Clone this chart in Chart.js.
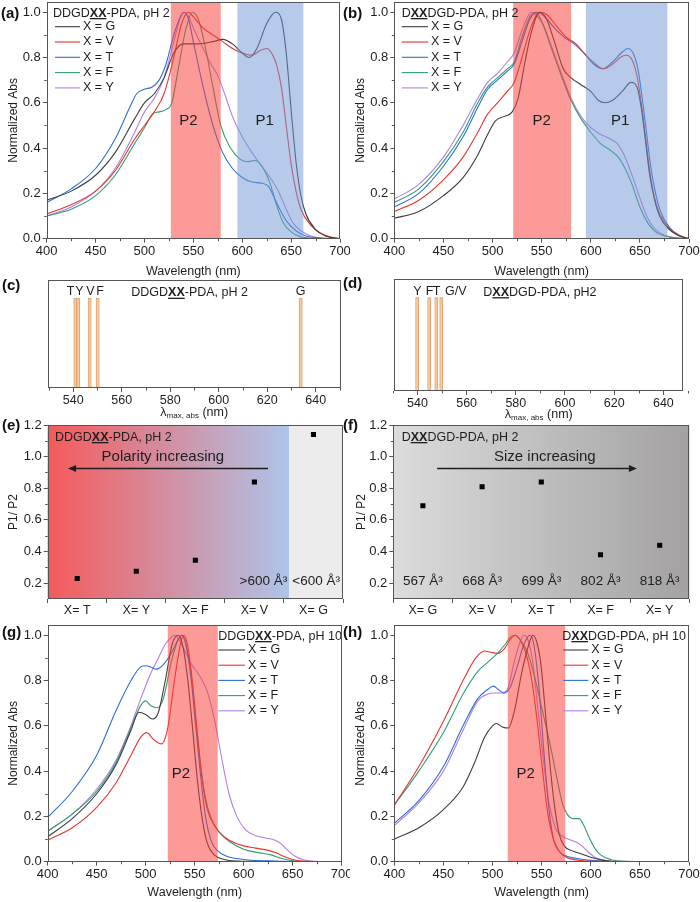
<!DOCTYPE html>
<html>
<head>
<meta charset="utf-8">
<script src="https://cdn.jsdelivr.net/npm/chart.js@4.4.1/dist/chart.umd.min.js"></script>
<style>
body { margin: 0; background: #fff; }
#fig { position: relative; width: 700px; height: 902px; overflow: hidden; }
#fig canvas { position: absolute; }
.tag { position: absolute; font: bold 15px "Liberation Sans", Arial, sans-serif; color: #111; }
</style>
</head>
<body>
<div id="fig">
  <canvas id="ca" width="350" height="282" style="left:0;top:0"></canvas>
  <canvas id="cb" width="350" height="282" style="left:350px;top:0"></canvas>
  <canvas id="cc" width="350" height="145" style="left:0;top:276px"></canvas>
  <canvas id="cd" width="350" height="145" style="left:350px;top:276px"></canvas>
  <canvas id="ce" width="350" height="205" style="left:0;top:418px"></canvas>
  <canvas id="cf" width="350" height="205" style="left:350px;top:418px"></canvas>
  <canvas id="cg" width="350" height="282" style="left:0;top:620px"></canvas>
  <canvas id="ch" width="350" height="282" style="left:350px;top:620px"></canvas>
  <div class="tag" style="left:1px;top:4px">(a)</div>
  <div class="tag" style="left:343px;top:4px">(b)</div>
  <div class="tag" style="left:2px;top:276px">(c)</div>
  <div class="tag" style="left:343px;top:274px">(d)</div>
  <div class="tag" style="left:2px;top:416px">(e)</div>
  <div class="tag" style="left:343px;top:416px">(f)</div>
  <div class="tag" style="left:2px;top:623px">(g)</div>
  <div class="tag" style="left:343px;top:623px">(h)</div>
</div>
<script>
// ---- data ----
const seriesNames = ['X = G', 'X = V', 'X = T', 'X = F', 'X = Y'];
const seriesColors = ['#3d3d3d', '#e8342f', '#2b6fdc', '#2f9f6c', '#b27fe6'];

const waveTicks = [400, 450, 500, 550, 600, 650, 700];
const waveMinor = [425, 475, 525, 575, 625, 675];
const absTicks = [0, 0.2, 0.4, 0.6, 0.8, 1.0];
const absMinor = [0.1, 0.3, 0.5, 0.7, 0.9];
const lambdaTicks = [540, 560, 580, 600, 620, 640];
const lambdaMinor = [530, 550, 570, 590, 610, 630, 650];
const ratioTicks = [0.2, 0.4, 0.6, 0.8, 1.0, 1.2];
const ratioMinor = [0.3, 0.5, 0.7, 0.9, 1.1];

// (a) DDGDXX-PDA, pH 2
const aG = [[400,0.17],[425,0.21],[450,0.28],[470,0.38],[490,0.53],[500,0.6],[510,0.64],[520,0.71],[530,0.82],[540,0.86],[555,0.86],[570,0.87],[580,0.88],[590,0.86],[600,0.82],[607,0.8],[615,0.84],[625,0.95],[634,1.0],[640,0.97],[645,0.82],[650,0.57],[655,0.34],[660,0.19],[665,0.11],[675,0.04],[685,0.012],[700,0]];
const aV = [[400,0.11],[425,0.15],[450,0.21],[470,0.3],[490,0.44],[500,0.5],[510,0.56],[520,0.64],[530,0.8],[538,0.95],[545,1.0],[550,0.98],[560,0.93],[570,0.9],[580,0.87],[590,0.84],[600,0.82],[610,0.81],[618,0.83],[625,0.84],[630,0.82],[635,0.77],[640,0.67],[645,0.5],[650,0.33],[655,0.21],[660,0.13],[670,0.06],[680,0.025],[690,0.008],[700,0]];
const aT = [[400,0.16],[425,0.22],[450,0.31],[470,0.44],[485,0.58],[492,0.64],[500,0.66],[508,0.67],[515,0.7],[522,0.77],[530,0.9],[538,0.99],[541,1.0],[545,0.97],[550,0.87],[560,0.67],[570,0.5],[580,0.38],[590,0.31],[600,0.27],[610,0.25],[620,0.245],[627,0.23],[635,0.16],[645,0.08],[655,0.035],[665,0.012],[680,0.003],[700,0]];
const aF = [[400,0.1],[425,0.13],[450,0.19],[470,0.28],[490,0.42],[500,0.49],[508,0.55],[515,0.56],[522,0.57],[528,0.6],[535,0.76],[542,0.92],[549,1.0],[555,0.97],[562,0.85],[570,0.67],[578,0.5],[588,0.4],[598,0.35],[605,0.34],[613,0.345],[620,0.32],[628,0.25],[635,0.15],[642,0.07],[650,0.03],[660,0.008],[680,0],[700,0]];
const aY = [[400,0.1],[425,0.14],[450,0.21],[470,0.31],[490,0.47],[500,0.56],[510,0.62],[520,0.71],[530,0.87],[537,0.98],[540,1.0],[545,0.98],[552,0.91],[560,0.84],[568,0.77],[575,0.72],[582,0.64],[590,0.54],[600,0.45],[610,0.38],[620,0.32],[630,0.26],[637,0.21],[645,0.13],[652,0.07],[660,0.035],[670,0.012],[685,0.002],[700,0]];

// (b) DXXDGD-PDA, pH 2
const bG = [[400,0.09],[425,0.12],[450,0.19],[470,0.27],[485,0.37],[495,0.46],[503,0.52],[512,0.54],[520,0.56],[526,0.62],[533,0.78],[540,0.92],[548,1.0],[555,0.97],[563,0.87],[572,0.75],[580,0.71],[590,0.68],[600,0.65],[608,0.61],[614,0.6],[622,0.61],[632,0.65],[641,0.69],[647,0.67],[652,0.56],[656,0.42],[660,0.28],[665,0.17],[670,0.1],[680,0.04],[690,0.012],[700,0]];
const bV = [[400,0.12],[425,0.17],[450,0.26],[470,0.36],[485,0.47],[495,0.55],[505,0.6],[515,0.65],[522,0.69],[530,0.8],[538,0.92],[545,0.99],[549,1.0],[555,0.99],[565,0.94],[575,0.89],[585,0.86],[595,0.81],[605,0.77],[613,0.75],[622,0.77],[630,0.8],[636,0.81],[642,0.79],[647,0.72],[652,0.58],[656,0.44],[660,0.3],[665,0.18],[670,0.11],[680,0.045],[690,0.015],[700,0]];
const bT = [[400,0.14],[425,0.2],[450,0.32],[470,0.45],[485,0.58],[495,0.66],[505,0.7],[515,0.74],[522,0.77],[530,0.87],[538,0.97],[546,1.0],[553,0.98],[563,0.93],[573,0.89],[583,0.86],[593,0.82],[603,0.77],[612,0.75],[622,0.78],[631,0.82],[638,0.84],[643,0.82],[648,0.75],[653,0.6],[657,0.46],[661,0.32],[666,0.2],[671,0.12],[680,0.05],[690,0.015],[700,0]];
const bF = [[400,0.16],[425,0.22],[450,0.34],[470,0.47],[485,0.6],[495,0.67],[505,0.71],[515,0.75],[522,0.78],[530,0.89],[538,0.98],[544,1.0],[550,0.96],[560,0.84],[570,0.72],[580,0.61],[590,0.53],[600,0.47],[610,0.42],[620,0.39],[628,0.36],[635,0.31],[642,0.24],[650,0.14],[658,0.07],[666,0.03],[675,0.012],[690,0.002],[700,0]];
const bY = [[400,0.175],[425,0.24],[450,0.36],[470,0.5],[485,0.62],[495,0.69],[505,0.73],[515,0.78],[522,0.82],[530,0.92],[537,0.99],[540,1.0],[546,0.98],[552,0.94],[560,0.85],[570,0.73],[580,0.62],[590,0.54],[600,0.49],[610,0.46],[620,0.44],[627,0.42],[634,0.37],[642,0.28],[650,0.18],[658,0.09],[666,0.04],[675,0.015],[690,0.003],[700,0]];

// (g) DDGDXX-PDA, pH 10
const gG = [[400,0.11],[425,0.19],[450,0.3],[470,0.43],[485,0.58],[493,0.66],[500,0.65],[507,0.63],[513,0.66],[520,0.8],[527,0.96],[533,1.0],[538,0.95],[543,0.8],[548,0.58],[553,0.35],[558,0.18],[563,0.08],[570,0.03],[580,0.01],[600,0.002],[700,0]];
const gV = [[400,0.095],[425,0.15],[450,0.24],[470,0.35],[485,0.47],[495,0.55],[501,0.57],[508,0.54],[516,0.52],[522,0.58],[530,0.82],[536,0.97],[539,1.0],[543,0.95],[548,0.78],[553,0.55],[558,0.35],[563,0.23],[570,0.16],[580,0.11],[590,0.085],[600,0.07],[612,0.06],[625,0.05],[633,0.04],[640,0.025],[648,0.012],[660,0.003],[700,0]];
const gT = [[400,0.195],[425,0.31],[450,0.47],[470,0.67],[485,0.8],[495,0.86],[500,0.865],[505,0.86],[511,0.85],[518,0.87],[526,0.92],[533,0.98],[537,1.0],[541,0.96],[546,0.82],[551,0.6],[556,0.38],[561,0.2],[567,0.09],[573,0.05],[582,0.025],[600,0.01],[630,0.003],[700,0]];
const gF = [[400,0.135],[425,0.21],[450,0.31],[470,0.44],[485,0.59],[495,0.69],[500,0.71],[505,0.69],[512,0.68],[518,0.72],[526,0.88],[533,0.98],[537,1.0],[541,0.96],[546,0.84],[551,0.64],[556,0.43],[561,0.28],[567,0.19],[575,0.13],[585,0.09],[600,0.055],[615,0.04],[628,0.03],[638,0.015],[648,0.005],[660,0],[700,0]];
const gY = [[400,0.135],[425,0.21],[450,0.32],[470,0.45],[485,0.6],[495,0.72],[505,0.83],[513,0.9],[520,0.96],[526,0.99],[529,1.0],[534,0.98],[540,0.93],[547,0.87],[555,0.82],[563,0.75],[570,0.63],[577,0.47],[585,0.3],[593,0.2],[602,0.14],[612,0.115],[622,0.105],[632,0.095],[638,0.08],[645,0.05],[652,0.025],[660,0.01],[672,0.002],[700,0]];

// (h) DXXDGD-PDA, pH 10
const hG = [[400,0.1],[425,0.15],[450,0.23],[470,0.33],[482,0.44],[492,0.55],[500,0.6],[504,0.61],[510,0.595],[516,0.59],[522,0.66],[530,0.84],[537,0.96],[541,1.0],[545,0.97],[549,0.88],[553,0.7],[558,0.45],[563,0.25],[568,0.12],[573,0.07],[580,0.05],[590,0.035],[600,0.02],[612,0.007],[625,0],[700,0]];
const hV = [[400,0.25],[425,0.42],[450,0.62],[470,0.8],[483,0.9],[492,0.93],[498,0.925],[505,0.92],[512,0.94],[518,0.98],[523,1.0],[528,0.98],[534,0.92],[540,0.8],[546,0.6],[551,0.4],[556,0.22],[562,0.1],[568,0.045],[575,0.02],[585,0.008],[600,0.002],[700,0]];
const hT = [[400,0.17],[425,0.27],[450,0.42],[470,0.6],[485,0.72],[495,0.76],[501,0.775],[506,0.76],[512,0.745],[518,0.77],[525,0.86],[532,0.96],[538,1.0],[542,0.96],[547,0.78],[552,0.5],[557,0.25],[562,0.1],[568,0.045],[575,0.025],[585,0.015],[600,0.006],[615,0.002],[700,0]];
const hF = [[400,0.25],[425,0.4],[450,0.57],[470,0.74],[485,0.84],[495,0.88],[505,0.92],[513,0.96],[518,0.99],[523,1.0],[528,0.98],[535,0.93],[542,0.83],[550,0.68],[558,0.53],[565,0.38],[571,0.26],[576,0.21],[582,0.19],[588,0.19],[593,0.16],[598,0.11],[604,0.06],[610,0.03],[620,0.01],[635,0.002],[700,0]];
const hY = [[400,0.16],[425,0.26],[450,0.4],[470,0.58],[485,0.71],[495,0.74],[503,0.745],[510,0.745],[516,0.77],[522,0.88],[528,0.97],[532,1.0],[536,0.98],[541,0.88],[546,0.68],[552,0.44],[558,0.25],[565,0.14],[572,0.11],[580,0.095],[586,0.085],[591,0.07],[597,0.045],[604,0.02],[612,0.008],[625,0],[700,0]];

// shaded P2 / P1 regions (nm)
const aBands = [[527, 578], [595, 662.5]];
const bBands = [[521, 580], [595, 678]];
const gBands = [[522.5, 573.5]];
const hBands = [[515.5, 574]];

// (c), (d) lambda max bars
const cLetters = ['T', 'Y', 'V', 'F', 'G'];
const cPeaks = [540.9, 542.1, 546.8, 550.1, 633.8];
const cLabelAt = [538.9, 542.6, 547.1, 551.1, 633.8];
const dLetters = ['Y', 'F', 'T', 'G/V'];
const dPeaks = [539.9, 544.8, 547.7, 549.7];
const dLabelAt = [540.0, 544.9, 547.8, 555.6];

// (e), (f) P1/P2 ratios
const eCats = ['X= T', 'X= Y', 'X= F', 'X= V', 'X= G'];
const eRatio = [0.23, 0.275, 0.345, 0.84, 1.14];
const fCats = ['X= G', 'X= V', 'X= T', 'X= F', 'X= Y'];
const fRatio = [0.69, 0.81, 0.84, 0.38, 0.44];
const fVolumes = ['567 Å³', '668 Å³', '699 Å³', '802 Å³', '818 Å³'];

// ---- drawing helpers ----
const FONT = '"Liberation Sans", Arial, sans-serif';
const INK = '#1e1e1e';
Chart.defaults.font.family = FONT;
Chart.defaults.color = INK;

const titleA = [['DDGD', 0], ['XX', 1], ['-PDA, pH 2', 0]];
const titleB = [['D', 0], ['XX', 1], ['DGD-PDA, pH 2', 0]];
const titleD = [['D', 0], ['XX', 1], ['DGD-PDA, pH2', 0]];
const titleG = [['DDGD', 0], ['XX', 1], ['-PDA, pH 10', 0]];
const titleH = [['D', 0], ['XX', 1], ['DGD-PDA, pH 10', 0]];

// text with a bold, underlined middle part; y is the baseline
function richText(ctx, parts, x, y, size, align) {
  ctx.textBaseline = 'alphabetic';
  ctx.textAlign = 'left';
  let w = 0;
  parts.forEach(p => { ctx.font = (p[1] ? 'bold ' : '') + size + 'px ' + FONT; w += ctx.measureText(p[0]).width; });
  let cx = align === 'center' ? x - w / 2 : x;
  ctx.fillStyle = INK;
  parts.forEach(p => {
    ctx.font = (p[1] ? 'bold ' : '') + size + 'px ' + FONT;
    ctx.fillText(p[0], cx, y);
    const pw = ctx.measureText(p[0]).width;
    if (p[1]) ctx.fillRect(cx, y + 1.5, pw, 1.3);
    cx += pw;
  });
}

function arrow(ctx, x1, x2, y) {
  const dir = x2 > x1 ? 1 : -1;
  ctx.strokeStyle = INK; ctx.fillStyle = INK; ctx.lineWidth = 1.3;
  ctx.beginPath(); ctx.moveTo(x1, y); ctx.lineTo(x2 - dir * 6, y); ctx.stroke();
  ctx.beginPath(); ctx.moveTo(x2, y); ctx.lineTo(x2 - dir * 8, y - 3.5); ctx.lineTo(x2 - dir * 8, y + 3.5); ctx.closePath(); ctx.fill();
}

const frame = {
  id: 'frame',
  afterDraw(c, args, o) {
    const a = c.chartArea, ctx = c.ctx;
    ctx.save();
    ctx.strokeStyle = '#555'; ctx.lineWidth = 1;
    ctx.strokeRect(Math.round(a.left) + 0.5, Math.round(a.top) + 0.5, Math.round(a.right - a.left) - 1, Math.round(a.bottom - a.top) - 1);
    ctx.beginPath();
    (o.xMinor || []).forEach(v => { const p = Math.round(c.scales.x.getPixelForValue(v)) + 0.5; ctx.moveTo(p, a.bottom); ctx.lineTo(p, a.bottom + 2.5); });
    (o.yMinor || []).forEach(v => { const p = Math.round(c.scales.y.getPixelForValue(v)) + 0.5; ctx.moveTo(a.left, p); ctx.lineTo(a.left - 2.5, p); });
    ctx.stroke();
    ctx.restore();
  }
};

function fixedScales(plot, h) {
  return {
    x: s => { s.height = h - plot[3]; s.paddingLeft = 0; s.paddingRight = 0; },
    y: s => { s.width = plot[0]; s.paddingTop = 0; s.paddingBottom = 0; }
  };
}

const spec = {
  id: 'spec',
  afterDatasetsDraw(c, args, o) {
    const {ctx, chartArea: a, scales: {x}} = c;
    ctx.save();
    o.bands.forEach((b, i) => {
      ctx.fillStyle = i === 0 ? 'rgba(250,62,58,0.52)' : 'rgba(112,150,212,0.5)';
      const l = x.getPixelForValue(b[0]), r = x.getPixelForValue(b[1]);
      ctx.fillRect(l, a.top, r - l, a.bottom - a.top);
    });
    ctx.restore();
  },
  afterDraw(c, args, o) {
    const {ctx, scales: {x, y}} = c;
    ctx.save();
    ctx.fillStyle = INK; ctx.font = '15px ' + FONT; ctx.textAlign = 'center'; ctx.textBaseline = 'middle';
    o.pLabels.forEach(p => ctx.fillText(p[0], x.getPixelForValue(p[1]), y.getPixelForValue(p[2])));
    const L = o.legend;
    richText(ctx, o.title, L.tx0, L.ty + 4.5, 12.5, 'left');
    seriesNames.forEach((n, i) => {
      const yy = L.y0 + i * L.dy;
      ctx.strokeStyle = seriesColors[i]; ctx.lineWidth = 1.1;
      ctx.beginPath(); ctx.moveTo(L.x1, yy); ctx.lineTo(L.x2, yy); ctx.stroke();
      ctx.fillStyle = INK; ctx.font = '12.5px ' + FONT; ctx.textAlign = 'left'; ctx.textBaseline = 'middle';
      ctx.fillText(n, L.x2 + 3, yy);
    });
    ctx.restore();
  }
};

function spectrum(id, curves, o) {
  const fit = fixedScales(o.plot, o.h);
  return new Chart(document.getElementById(id), {
    type: 'line',
    data: {
      datasets: curves.map((pts, i) => ({
        label: seriesNames[i],
        data: pts.map(p => ({x: p[0], y: p[1]})),
        borderColor: seriesColors[i],
        borderWidth: 1.1,
        pointRadius: 0,
        cubicInterpolationMode: 'monotone'
      }))
    },
    options: {
      responsive: false, animation: false, events: [],
      layout: {padding: {left: 0, top: o.plot[2], right: 350 - o.plot[1], bottom: 0}},
      plugins: {
        legend: {display: false}, tooltip: {enabled: false},
        frame: {xMinor: waveMinor, yMinor: absMinor},
        spec: o
      },
      scales: {
        x: {
          type: 'linear', min: 400, max: 700,
          afterBuildTicks: s => { s.ticks = waveTicks.map(v => ({value: v})); },
          afterFit: fit.x,
          grid: {drawOnChartArea: false, tickLength: 4, color: '#555'},
          border: {display: false},
          ticks: {font: {size: 13}, padding: 1, maxRotation: 0, color: INK},
          title: {display: true, text: 'Wavelength (nm)', font: {size: 12.5}, color: INK, padding: {top: 0, bottom: o.xtPad}}
        },
        y: {
          min: 0, max: 1.045,
          afterBuildTicks: s => { s.ticks = absTicks.map(v => ({value: v})); },
          afterFit: fit.y,
          grid: {drawOnChartArea: false, tickLength: 4, color: '#555'},
          border: {display: false},
          ticks: {font: {size: 13}, padding: 2, color: INK, callback: v => v.toFixed(1)},
          title: {display: true, text: 'Normalized Abs', font: {size: 12}, color: INK, padding: {top: o.ytPad, bottom: 0}}
        }
      }
    },
    plugins: [spec, frame]
  });
}

const peakText = {
  id: 'peakText',
  afterDraw(c, args, o) {
    const {ctx, chartArea: a, scales: {x, y}} = c;
    ctx.save();
    ctx.fillStyle = INK; ctx.font = '12.5px ' + FONT; ctx.textAlign = 'center'; ctx.textBaseline = 'middle';
    const ly = y.getPixelForValue(1.07);
    o.letters.forEach((t, i) => ctx.fillText(t, x.getPixelForValue(o.labelAt[i]), ly));
    richText(ctx, o.title, x.getPixelForValue(o.titleAt), ly + 4.5, 12.5, o.titleAlign);
    // lambda max axis title
    const cx = (a.left + a.right) / 2, ty = o.ly;
    ctx.textBaseline = 'middle';
    ctx.font = '12.5px ' + FONT; ctx.textAlign = 'left'; ctx.fillStyle = INK;
    const w1 = ctx.measureText('λ').width;
    ctx.font = '8px ' + FONT; const w2 = ctx.measureText('max, abs').width;
    ctx.font = '12.5px ' + FONT; const w3 = ctx.measureText(' (nm)').width;
    let px = cx - (w1 + w2 + w3) / 2;
    ctx.fillText('λ', px, ty); px += w1;
    ctx.font = '8px ' + FONT; ctx.fillText('max, abs', px, ty + 3); px += w2;
    ctx.font = '12.5px ' + FONT; ctx.fillText(' (nm)', px, ty);
    ctx.restore();
  }
};

function peaks(id, vals, o) {
  const fit = fixedScales(o.plot, o.h);
  return new Chart(document.getElementById(id), {
    type: 'bar',
    data: {datasets: [{
      data: vals.map(v => ({x: v, y: 1})),
      backgroundColor: '#f8c89c', borderColor: '#d99e6c', borderWidth: 0.9,
      barThickness: 3.2
    }]},
    options: {
      responsive: false, animation: false, events: [],
      layout: {padding: {left: o.plot[0], top: o.plot[2], right: 350 - o.plot[1], bottom: 0}},
      plugins: {legend: {display: false}, tooltip: {enabled: false}, frame: {xMinor: lambdaMinor}, peakText: o},
      scales: {
        x: {
          type: 'linear', min: o.min, max: o.max, offset: false,
          afterBuildTicks: s => { s.ticks = lambdaTicks.map(v => ({value: v})); },
          afterFit: fit.x,
          grid: {offset: false, drawOnChartArea: false, tickLength: 4, color: '#555'},
          border: {display: false},
          ticks: {font: {size: 12.5}, padding: 1, maxRotation: 0, color: INK}
        },
        y: {min: 0, max: 1.2, display: false}
      }
    },
    plugins: [frame, peakText]
  });
}

const ratioDeco = {
  id: 'ratioDeco',
  beforeDatasetsDraw(c, args, o) {
    const {ctx, chartArea: a} = c;
    ctx.save();
    const split = a.left + (a.right - a.left) * o.gradTo;
    const g = ctx.createLinearGradient(a.left, 0, split, 0);
    g.addColorStop(0, o.colors[0]); g.addColorStop(1, o.colors[1]);
    ctx.fillStyle = g; ctx.fillRect(a.left, a.top, split - a.left, a.bottom - a.top);
    if (split < a.right) { ctx.fillStyle = '#ececec'; ctx.fillRect(split, a.top, a.right - split, a.bottom - a.top); }
    ctx.restore();
  },
  afterDraw(c, args, o) {
    const {ctx, chartArea: a, scales: {x, y}} = c;
    const W = a.right - a.left;
    ctx.save();
    richText(ctx, o.title, a.left + o.titleDx, a.top + 15.5, 12.5, 'left');
    ctx.font = '15px ' + FONT; ctx.textAlign = 'center'; ctx.textBaseline = 'middle'; ctx.fillStyle = INK;
    ctx.fillText(o.note, a.left + W * o.noteAt, a.top + 32);
    arrow(ctx, a.left + W * o.arrow[0], a.left + W * o.arrow[1], a.top + 43.5);
    ctx.font = '13.5px ' + FONT; ctx.textBaseline = 'middle'; ctx.fillStyle = INK;
    const vy = y.getPixelForValue(0.21);
    (o.volumes || []).forEach((t, i) => ctx.fillText(t, x.getPixelForValue(i), vy));
    if (o.split) {
      const split = a.left + W * o.gradTo;
      ctx.textAlign = 'right'; ctx.fillText('>600 Å³', split - 2, vy);
      ctx.textAlign = 'center'; ctx.fillText('<600 Å³', (split + a.right) / 2, vy);
    }
    ctx.restore();
  }
};

function ratio(id, cats, vals, o) {
  const fit = fixedScales(o.plot, o.h);
  return new Chart(document.getElementById(id), {
    type: 'line',
    data: {labels: cats, datasets: [{
      data: vals, showLine: false, pointStyle: 'rect', pointRadius: 3.6,
      backgroundColor: '#000', borderColor: '#000', borderWidth: 0
    }]},
    options: {
      responsive: false, animation: false, events: [],
      layout: {padding: {left: 0, top: o.plot[2], right: 350 - o.plot[1], bottom: 0}},
      plugins: {legend: {display: false}, tooltip: {enabled: false}, frame: {yMinor: ratioMinor}, ratioDeco: o},
      scales: {
        x: {
          type: 'category', offset: true,
          afterFit: fit.x,
          grid: {offset: true, drawOnChartArea: false, tickLength: 4, color: '#555'},
          border: {display: false},
          ticks: {font: {size: 12.5}, padding: 0, maxRotation: 0, color: INK}
        },
        y: {
          min: 0.1, max: 1.2,
          afterBuildTicks: s => { s.ticks = ratioTicks.map(v => ({value: v})); },
          afterFit: fit.y,
          grid: {drawOnChartArea: false, tickLength: 4, color: '#555'},
          border: {display: false},
          ticks: {font: {size: 13}, padding: 2, color: INK, callback: v => v.toFixed(1)},
          title: {display: true, text: 'P1/ P2', font: {size: 12}, color: INK, padding: {top: o.ytPad, bottom: 0}}
        }
      }
    },
    plugins: [ratioDeco, frame]
  });
}

// ---- panels ----
spectrum('ca', [aG, aV, aT, aF, aY], {
  plot: [46.7, 340, 2, 238.7], h: 282, xtPad: 3, ytPad: 6, bands: aBands,
  pLabels: [['P2', 545, 0.52], ['P1', 623, 0.52]], title: titleA,
  legend: {tx0: 53, ty: 12, x1: 55, x2: 80, y0: 26.7, dy: 15.3}
});
spectrum('cb', [bG, bV, bT, bF, bY], {
  plot: [44.3, 339, 2, 238.7], h: 282, xtPad: 3, ytPad: 3.5, bands: bBands,
  pLabels: [['P2', 550, 0.52], ['P1', 630, 0.52]], title: titleB,
  legend: {tx0: 51.7, ty: 12, x1: 51.7, x2: 78, y0: 26.7, dy: 15.3}
});
peaks('cc', cPeaks, {
  plot: [47.7, 340.7, 4, 112], h: 145, min: 529.5, max: 650.3,
  letters: cLetters, labelAt: cLabelAt, title: titleA, titleAt: 588, titleAlign: 'center', ly: 137
});
peaks('cd', dPeaks, {
  plot: [44.3, 333.3, 3, 115], h: 145, min: 530.6, max: 648.1,
  letters: dLetters, labelAt: dLabelAt, title: titleD, titleAt: 566.8, titleAlign: 'left', ly: 139
});
ratio('ce', eCats, eRatio, {
  plot: [47.7, 343, 7, 181], h: 205, ytPad: 6, title: titleA, titleDx: 7.3,
  colors: ['#f65a5a', '#aec4ea'], gradTo: 0.818, split: true,
  note: 'Polarity increasing', noteAt: 0.39, arrow: [0.746, 0.069]
});
ratio('cf', fCats, fRatio, {
  plot: [43.3, 339.3, 7, 181], h: 205, ytPad: 4.5, title: titleB, titleDx: 8.4,
  colors: ['#dcdcdc', '#a3a1a1'], gradTo: 1, split: false, volumes: fVolumes,
  note: 'Size increasing', noteAt: 0.512, arrow: [0.148, 0.823]
});
spectrum('cg', [gG, gV, gT, gF, gY], {
  plot: [47.7, 341.7, 5, 241.7], h: 282, xtPad: 2, ytPad: 6, bands: gBands,
  pLabels: [['P2', 536, 0.39]], title: titleG,
  legend: {tx0: 218.3, ty: 15, x1: 218.3, x2: 245, y0: 30, dy: 15.2}
});
spectrum('ch', [hG, hV, hT, hF, hY], {
  plot: [44.3, 339, 5, 241.7], h: 282, xtPad: 2, ytPad: 3, bands: hBands,
  pLabels: [['P2', 533.8, 0.39]], title: titleH,
  legend: {tx0: 212.3, ty: 15, x1: 213.3, x2: 238.3, y0: 30, dy: 15.2}
});
</script>
</body>
</html>
